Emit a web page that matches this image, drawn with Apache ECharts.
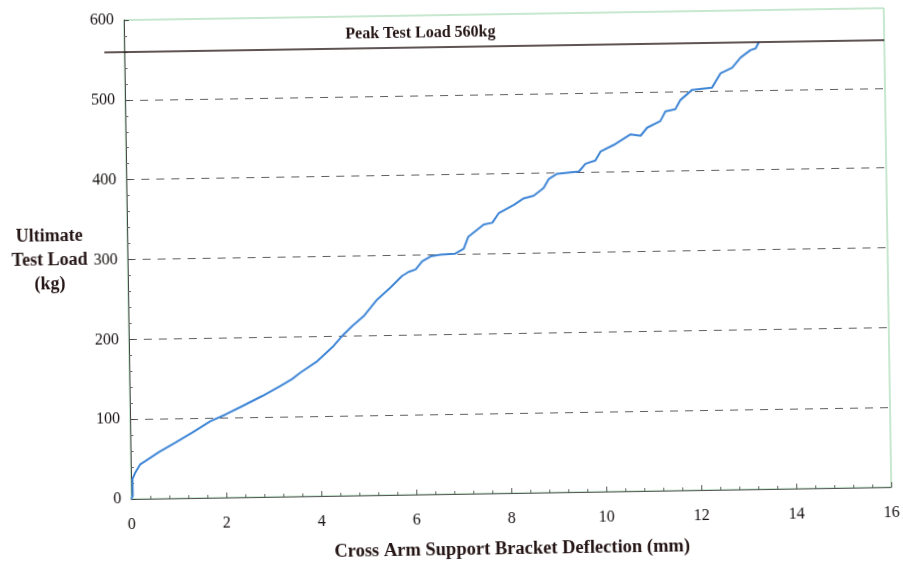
<!DOCTYPE html>
<html><head><meta charset="utf-8">
<script src="https://cdn.jsdelivr.net/npm/echarts@6/dist/echarts.min.js"></script>
<style>
html,body{margin:0;padding:0;background:#fff;overflow:hidden}
#c{width:903px;height:565px;transform:rotate(-0.9deg);transform-origin:451.5px 282.5px}
</style>
</head><body><div id="c"></div>
<script>
// Deflection (mm) and load (kg)
const deflection = [0, 0.03, 0.03, 0.09, 0.20, 0.31, 0.59, 0.95, 1.30, 1.69, 2.01, 2.36, 2.79, 3.17, 3.42, 3.60, 3.96, 4.31, 4.49, 4.70, 4.95, 5.24, 5.52, 5.77, 5.91, 6.06, 6.20, 6.38, 6.59, 6.90, 7.08, 7.18, 7.51, 7.69, 7.83, 8.15, 8.36, 8.57, 8.78, 8.89, 9.07, 9.53, 9.67, 9.88, 9.99, 10.27, 10.63, 10.84, 10.98, 11.26, 11.37, 11.58, 11.69, 11.94, 12.36, 12.54, 12.79, 12.97, 13.18, 13.29, 13.36];
const load = [0, 4, 25, 33, 43.5, 47.5, 58, 70, 82, 96, 104, 114, 126.5, 138.5, 147, 155, 169, 188, 200, 212, 224.5, 245, 259.5, 274, 279, 282, 292, 298, 300, 301, 307, 322, 337, 339, 351, 361, 369, 372, 381.5, 392.5, 399, 401.5, 411, 415, 426, 434, 447, 445, 455, 463, 475, 477.5, 489, 501.5, 504, 521.5, 528.5, 541, 550, 552, 560];
const xTicks = [0, 2, 4, 6, 8, 10, 12, 14, 16];
const yTicks = [0, 100, 200, 300, 400, 500, 600];
const peakLoad = 560;
const peakLabel = 'Peak Test Load 560kg';
const peakLabelAt = 6.24;
const xTitle = 'Cross Arm Support Bracket Deflection (mm)';
const yTitle = 'Ultimate\nTest Load\n(kg)';

const FONT = '"Liberation Serif", "Times New Roman", serif';
const chart = echarts.init(document.getElementById('c'), null, {renderer: 'canvas'});
const points = deflection.map((d, i) => [d, load[i]]);

chart.setOption({
  animation: false,
  backgroundColor: '#fff',
  grid: {left: 128, right: 15, top: 15, bottom: 70, show: true, borderColor: '#8fd19f', borderWidth: 1, containLabel: false},
  xAxis: {
    type: 'value', min: xTicks[0], max: xTicks[xTicks.length - 1], interval: xTicks[1] - xTicks[0],
    name: xTitle, nameLocation: 'middle', nameGap: 47,
    nameTextStyle: {fontFamily: FONT, fontWeight: 'bold', fontSize: 18.5, color: '#241414'},
    axisLine: {show: true, lineStyle: {color: '#555', width: 1}},
    axisTick: {show: true, inside: true, length: 5, lineStyle: {color: '#555'}},
    minorTick: {show: true, splitNumber: 5, length: 3, lineStyle: {color: '#666'}},
    axisLabel: {fontFamily: FONT, fontSize: 16, color: '#161010', margin: 18},
    splitLine: {show: false}
  },
  yAxis: {
    type: 'value', min: yTicks[0], max: yTicks[yTicks.length - 1], interval: yTicks[1] - yTicks[0],
    name: yTitle, nameLocation: 'middle', nameRotate: 0, nameGap: 78,
    nameTextStyle: {fontFamily: FONT, fontWeight: 'bold', fontSize: 18, color: '#241414', align: 'center', verticalAlign: 'middle', lineHeight: 24, padding: [22, 0, 0, 0]},
    axisLine: {show: true, lineStyle: {color: '#444', width: 1}},
    axisTick: {show: true, inside: true, length: 5, lineStyle: {color: '#444'}},
    minorTick: {show: true, splitNumber: 5, length: 3, lineStyle: {color: '#666'}},
    axisLabel: {fontFamily: FONT, fontSize: 16, color: '#161010', margin: 10},
    splitLine: {show: true, showMinLine: false, showMaxLine: false, lineStyle: {type: [8, 7], color: '#5f5f5f', width: 1}}
  },
  series: [{
    type: 'line', data: points, showSymbol: false, symbol: 'none',
    lineStyle: {color: '#3f86d6', width: 2}, z: 3,
    markPoint: {
      symbol: 'circle', symbolSize: 0, silent: true,
      data: [{coord: [peakLabelAt, peakLoad], value: peakLabel}],
      label: {show: true, position: 'top', distance: 6, formatter: peakLabel, fontFamily: FONT, fontWeight: 'bold', fontSize: 16, color: '#241414'}
    }
  }]
});

// Peak load line (extends slightly left of the y axis, as in the source)
const p0 = chart.convertToPixel({xAxisIndex: 0, yAxisIndex: 0}, [xTicks[0], peakLoad]);
const p1 = chart.convertToPixel({xAxisIndex: 0, yAxisIndex: 0}, [xTicks[xTicks.length - 1], peakLoad]);
chart.setOption({
  graphic: [{type: 'line', z: 5, shape: {x1: p0[0] - 20, y1: p0[1], x2: p1[0], y2: p1[1]}, style: {stroke: '#2a1a1a', lineWidth: 1.5}}]
});
</script>
</body></html>
